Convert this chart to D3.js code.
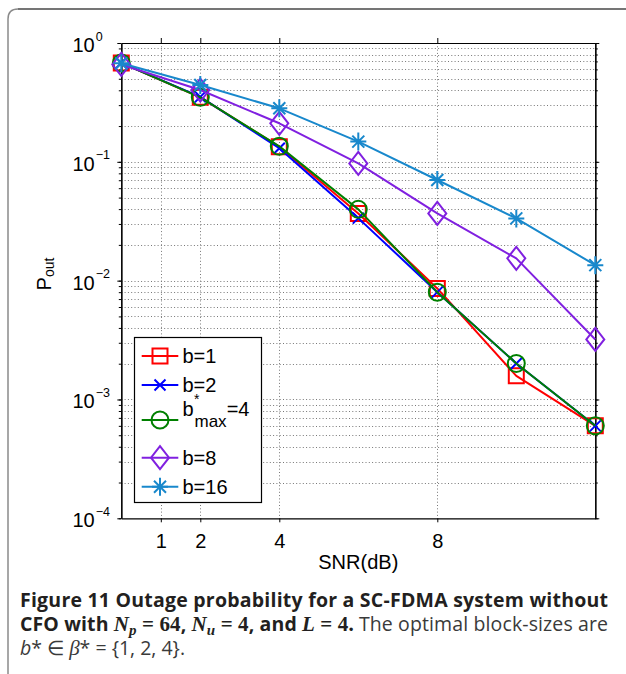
<!DOCTYPE html>
<html><head><meta charset="utf-8">
<script src="https://cdn.jsdelivr.net/npm/d3@7"></script>
<style>body{margin:0;background:#fff;} svg{display:block;}</style>
</head><body>
<svg id="c" width="626" height="674"></svg>
<script>
// ---- data ----
const snr = [0, 2, 4, 6, 8, 10, 12];
const xTicks = [1, 2, 4, 8];
const yTicks = [1, 0.1, 0.01, 0.001, 0.0001];
const yTickExp = ["0", "\u22121", "\u22122", "\u22123", "\u22124"];
const pB1  = [0.68, 0.349, 0.134, 0.0368, 0.0086, 0.00158, 0.0006];
const pB2  = [0.68, 0.352, 0.130, 0.0336, 0.0080, 0.00201, 0.0006];
const pB4  = [0.68, 0.349, 0.135, 0.0398, 0.0080, 0.00201, 0.0006];
const pB8  = [0.66, 0.402, 0.211, 0.097, 0.0368, 0.0154, 0.0032];
const pB16 = [0.675, 0.443, 0.282, 0.148, 0.0703, 0.0334, 0.0135];
const seriesLabels = ["b=1", "b=2", "bmax=4", "b=8", "b=16"];
const seriesColors = ["#ff0000", "#0000ff", "#008000", "#8020e0", "#1888cc"];
const seriesMarkers = ["square", "x", "circle", "diamond", "star"];
const xLabel = "SNR(dB)";

const series = [pB1, pB2, pB4, pB8, pB16].map((v, i) => ({
  values: v, label: seriesLabels[i], color: seriesColors[i], marker: seriesMarkers[i]
}));

const svg = d3.select("#c");
const L = 121.3, R = 595.3, T = 43, B = 518.3;
const x = d3.scaleLinear().domain([0, 12]).range([L, R]);
const y = d3.scaleLog().domain([1e-4, 1]).range([B, T]);

// frame
svg.append("path")
  .attr("d", "M8,680 L8,19 Q8,9 18,9 L630,9")
  .attr("fill", "none").attr("stroke", "#8a8a8a").attr("stroke-width", 1.5);
svg.append("line").attr("x1", 18).attr("x2", 630).attr("y1", 9).attr("y2", 9)
  .attr("stroke", "#444").attr("stroke-width", 1.2);

// grid
const minorVals = [];
for (let e = -4; e < 0; e++) for (let k = 1; k <= 9; k++) minorVals.push(k * Math.pow(10, e));
const grid = svg.append("g").attr("stroke", "#777").attr("stroke-width", 1).attr("stroke-dasharray", "1,2.3");
grid.selectAll(".hg").data(minorVals.filter(v => v > 1e-4)).join("line")
  .attr("x1", L).attr("x2", R).attr("y1", d => Math.round(y(d)) + 0.5).attr("y2", d => Math.round(y(d)) + 0.5);
grid.selectAll(".vg").data(xTicks).join("line")
  .attr("x1", d => Math.round(x(d)) + 0.5).attr("x2", d => Math.round(x(d)) + 0.5).attr("y1", T).attr("y2", B);

// axes
const fontAxis = "'Liberation Sans', Arial, Helvetica, sans-serif";
const axB = svg.append("g").attr("transform", `translate(0,${B})`)
  .call(d3.axisBottom(x).tickValues(xTicks).tickSize(4).tickSizeOuter(0).tickPadding(12).tickFormat(d3.format("d")));
axB.selectAll("text").attr("font-size", 20).attr("font-family", fontAxis).attr("fill", "#000");
const axT = svg.append("g").attr("transform", `translate(0,${T})`)
  .call(d3.axisTop(x).tickValues(xTicks).tickSize(5).tickSizeOuter(0).tickFormat(""));
const axL = svg.append("g").attr("transform", `translate(${L},0)`)
  .call(d3.axisLeft(y).tickValues(yTicks).tickSize(4).tickSizeOuter(0).tickFormat(""));
const axLm = svg.append("g").attr("transform", `translate(${L},0)`)
  .call(d3.axisLeft(y).tickValues(minorVals).tickSize(2.5).tickSizeOuter(0).tickFormat(""));
const axR = svg.append("g").attr("transform", `translate(${R},0)`)
  .call(d3.axisRight(y).tickValues(yTicks).tickSize(4).tickSizeOuter(0).tickFormat(""));
const axRm = svg.append("g").attr("transform", `translate(${R},0)`)
  .call(d3.axisRight(y).tickValues(minorVals).tickSize(2.5).tickSizeOuter(0).tickFormat(""));
[axB, axT, axL, axLm, axR, axRm].forEach(g => {
  g.selectAll("line").attr("stroke", "#000").attr("stroke-width", 1);
  g.select(".domain").attr("stroke", "#000").attr("stroke-width", 1.2);
});

// y tick labels
const yl = svg.append("g").attr("font-family", fontAxis).attr("fill", "#000");
yTicks.forEach((v, i) => {
  const t = yl.append("text").attr("x", 72.5).attr("y", y(v) + 9).attr("font-size", 20);
  t.append("tspan").text("10");
  t.append("tspan").attr("font-size", 12.5).attr("dy", -11.5).attr("dx", 1).text(yTickExp[i]);
});

// axis titles
svg.append("text").attr("x", (L + R) / 2).attr("y", 569).attr("text-anchor", "middle")
  .attr("font-family", fontAxis).attr("font-size", 20).text(xLabel);
const yt = svg.append("text").attr("transform", "translate(51,274) rotate(-90)")
  .attr("text-anchor", "middle").attr("font-family", fontAxis).attr("font-size", 20);
yt.append("tspan").text("P");
yt.append("tspan").attr("font-size", 14).attr("dy", 3).text("out");

// markers
function markerPath(type) {
  const p = d3.path();
  if (type === "square") { p.rect(-7.5, -7.5, 15, 15); }
  else if (type === "x") { p.moveTo(-5.5, -5.5); p.lineTo(5.5, 5.5); p.moveTo(-5.5, 5.5); p.lineTo(5.5, -5.5); }
  else if (type === "circle") { p.moveTo(8.5, 0); p.arc(0, 0, 8.5, 0, 2 * Math.PI); p.closePath(); }
  else if (type === "diamond") { p.moveTo(0, -11.5); p.lineTo(9, 0); p.lineTo(0, 11.5); p.lineTo(-9, 0); p.closePath(); }
  else if (type === "star") {
    p.moveTo(-8, 0); p.lineTo(8, 0); p.moveTo(0, -9); p.lineTo(0, 9);
    p.moveTo(-6, -6); p.lineTo(6, 6); p.moveTo(-6, 6); p.lineTo(6, -6);
  }
  return p.toString();
}

const line = d3.line().x((d, i) => x(snr[i])).y(d => y(d));
const plot = svg.append("g");
series.forEach(s => {
  const g = plot.append("g");
  g.append("path").attr("d", line(s.values)).attr("fill", "none")
    .attr("stroke", s.color).attr("stroke-width", 2).attr("stroke-linejoin", "round");
  g.selectAll("path.m").data(s.values).join("path").attr("class", "m")
    .attr("transform", (d, i) => `translate(${x(snr[i])},${y(d)})`)
    .attr("d", markerPath(s.marker)).attr("fill", "none")
    .attr("stroke", s.color).attr("stroke-width", 2);
});

// legend
const lg = svg.append("g");
lg.append("rect").attr("x", 134.5).attr("y", 337.5).attr("width", 127).attr("height", 165)
  .attr("fill", "#fff").attr("stroke", "#000").attr("stroke-width", 1.2);
const legY = [356, 385, 420, 457.7, 486.7];
series.forEach((s, i) => {
  const cy = legY[i];
  lg.append("line").attr("x1", 141.7).attr("x2", 178.3).attr("y1", cy).attr("y2", cy)
    .attr("stroke", s.color).attr("stroke-width", 2);
  lg.append("path").attr("transform", `translate(160,${cy})`).attr("d", markerPath(s.marker))
    .attr("fill", "none").attr("stroke", s.color).attr("stroke-width", 2);
  const t = lg.append("text").attr("x", 182.5).attr("font-family", fontAxis).attr("font-size", 20);
  if (s.label === "bmax=4") {
    t.attr("y", 415.7);
    t.append("tspan").text("b");
    t.append("tspan").attr("x", 194).attr("y", 404).attr("font-size", 14).text("*");
    t.append("tspan").attr("x", 194.5).attr("y", 426.7).attr("font-size", 17).text("max");
    t.append("tspan").attr("y", 415.7).text("=4");
  } else {
    t.attr("y", cy + 7.3).text(s.label);
  }
});

// caption
const capX = 20, capW = 588;
const cap = svg.append("g").attr("font-family", "'Open Sans', sans-serif").attr("font-size", 19.5);
const c1 = cap.append("text").attr("x", capX).attr("y", 607).attr("font-weight", "bold").attr("fill", "#231f20")
  .text("Figure 11 Outage probability for a SC-FDMA system without");
const c2 = cap.append("text").attr("x", capX).attr("y", 631).attr("fill", "#231f20");
const serif = "'Liberation Serif', 'DejaVu Serif', serif";
const mathSz = 21, subSz = 15;
c2.append("tspan").attr("font-weight", "bold").text("CFO with ");
c2.append("tspan").attr("font-family", serif).attr("font-weight", "bold").attr("font-style", "italic").attr("font-size", mathSz).text("N");
c2.append("tspan").attr("font-family", serif).attr("font-weight", "bold").attr("font-style", "italic").attr("font-size", subSz).attr("dy", 3.5).text("p");
c2.append("tspan").attr("font-family", serif).attr("font-weight", "bold").attr("font-size", mathSz).attr("dy", -3.5).text(" = 64");
c2.append("tspan").attr("font-weight", "bold").text(", ");
c2.append("tspan").attr("font-family", serif).attr("font-weight", "bold").attr("font-style", "italic").attr("font-size", mathSz).text("N");
c2.append("tspan").attr("font-family", serif).attr("font-weight", "bold").attr("font-style", "italic").attr("font-size", subSz).attr("dy", 3.5).text("u");
c2.append("tspan").attr("font-family", serif).attr("font-weight", "bold").attr("font-size", mathSz).attr("dy", -3.5).text(" = 4");
c2.append("tspan").attr("font-weight", "bold").text(", and ");
c2.append("tspan").attr("font-family", serif).attr("font-weight", "bold").attr("font-style", "italic").attr("font-size", mathSz).text("L");
c2.append("tspan").attr("font-family", serif).attr("font-weight", "bold").attr("font-size", mathSz).text(" = 4.");
c2.append("tspan").attr("fill", "#3a3a3a").text(" The optimal block-sizes are");
const c3 = cap.append("text").attr("x", capX).attr("y", 655).attr("fill", "#3a3a3a");
c3.append("tspan").attr("font-style", "italic").text("b");
c3.append("tspan").text("* \u2208 ");
c3.append("tspan").attr("font-style", "italic").attr("font-family", serif).attr("font-size", mathSz).text("\u03b2");
c3.append("tspan").text("* = {1, 2, 4}.");
// justify the first two caption lines to the column width
[c1, c2].forEach(t => {
  const w = t.node().getComputedTextLength();
  if (Math.abs(w - capW) < 80) t.attr("textLength", capW).attr("lengthAdjust", "spacing");
});
</script>
</body></html>
